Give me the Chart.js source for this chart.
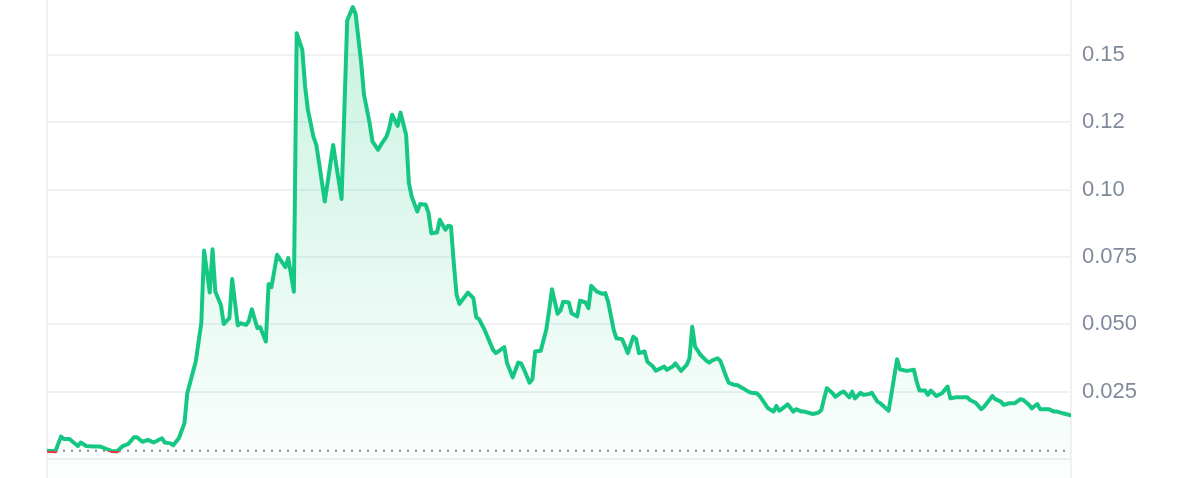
<!DOCTYPE html>
<html>
<head>
<meta charset="utf-8">
<script src="https://cdn.jsdelivr.net/npm/chart.js@4/dist/chart.umd.min.js"></script>
<style>
	html, body { margin: 0; padding: 0; background: #ffffff; }
	#wrap { width: 1200px; height: 478px; }
</style>
</head>
<body>
<div id="wrap"><canvas id="priceChart" width="1200" height="478"></canvas></div>
<script>
// day index on the x axis, price in USD on the y axis
const days = [
	0, 3, 5, 6, 8, 11, 12, 14, 17, 19, 21, 23, 25, 27, 29, 31, 32, 34, 36, 38,
	41, 42, 44, 45, 47, 49, 50, 53, 55, 56, 58, 59, 60, 62, 63, 65, 66, 68, 69, 71,
	72, 73, 75, 76, 78, 79, 80, 82, 85, 86, 88, 89, 91, 92, 93, 95, 96, 97, 99, 100,
	102, 103, 105, 106, 107, 109, 110, 112, 113, 115, 116, 118, 119, 121, 122, 123, 125, 126, 128, 129,
	130, 132, 133, 135, 136, 137, 139, 140, 142, 143, 144, 145, 146, 147, 149, 150, 152, 153, 154, 156,
	159, 160, 163, 164, 166, 168, 169, 170, 172, 173, 174, 176, 178, 179, 180, 182, 183, 184, 186, 187,
	189, 190, 192, 193, 194, 196, 198, 199, 200, 202, 203, 205, 206, 207, 209, 210, 211, 213, 214, 216,
	217, 220, 221, 223, 224, 226, 228, 229, 230, 231, 233, 235, 236, 237, 239, 240, 242, 243, 245, 246,
	248, 250, 251, 253, 254, 256, 257, 259, 260, 261, 263, 264, 266, 267, 269, 270, 273, 275, 276, 277,
	278, 280, 281, 283, 284, 286, 287, 288, 290, 291, 293, 294, 296, 297, 299, 300, 303, 304, 306, 307,
	309, 310, 311, 313, 314, 315, 317, 319, 321, 322, 324, 326, 328, 329, 331, 333, 334, 337, 338, 340,
	341, 343, 345, 347, 348, 350, 351, 353, 354, 356, 357, 359, 360, 362, 365
];

const prices = [
	0.0031, 0.0029, 0.0083, 0.0074, 0.0074, 0.0048, 0.0061, 0.0048, 0.0046, 0.0046,
	0.0038, 0.0030, 0.0029, 0.0048, 0.0056, 0.0081, 0.0081, 0.0064, 0.0071, 0.0061,
	0.0077, 0.0061, 0.0058, 0.0051, 0.0077, 0.0133, 0.0244, 0.0361, 0.0505, 0.0774,
	0.0618, 0.0779, 0.0621, 0.0572, 0.0501, 0.0523, 0.0668, 0.0496, 0.0504, 0.0498,
	0.0514, 0.0556, 0.0486, 0.0489, 0.0436, 0.0650, 0.0638, 0.0758, 0.0712, 0.0746,
	0.0621, 0.1581, 0.1519, 0.1383, 0.1296, 0.1195, 0.1166, 0.1098, 0.0956, 0.1024,
	0.1166, 0.1098, 0.0965, 0.1296, 0.1628, 0.1678, 0.1653, 0.1470, 0.1352, 0.1247,
	0.1179, 0.1148, 0.1166, 0.1197, 0.1228, 0.1278, 0.1237, 0.1286, 0.1204, 0.1024,
	0.0974, 0.0919, 0.0947, 0.0944, 0.0913, 0.0838, 0.0841, 0.0888, 0.0851, 0.0866,
	0.0863, 0.0727, 0.0609, 0.0576, 0.0603, 0.0618, 0.0597, 0.0526, 0.0519, 0.0479,
	0.0405, 0.0393, 0.0415, 0.0355, 0.0303, 0.0358, 0.0355, 0.0333, 0.0283, 0.0296,
	0.0399, 0.0402, 0.0482, 0.0553, 0.0630, 0.0539, 0.0551, 0.0584, 0.0581, 0.0541,
	0.0529, 0.0588, 0.0581, 0.0560, 0.0643, 0.0621, 0.0613, 0.0616, 0.0584, 0.0479,
	0.0448, 0.0445, 0.0420, 0.0393, 0.0454, 0.0445, 0.0393, 0.0399, 0.0361, 0.0343,
	0.0328, 0.0343, 0.0331, 0.0343, 0.0355, 0.0327, 0.0349, 0.0374, 0.0491, 0.0417,
	0.0386, 0.0365, 0.0358, 0.0365, 0.0374, 0.0365, 0.0308, 0.0283, 0.0275, 0.0275,
	0.0263, 0.0250, 0.0246, 0.0244, 0.0234, 0.0204, 0.0188, 0.0176, 0.0197, 0.0179,
	0.0194, 0.0203, 0.0176, 0.0185, 0.0176, 0.0176, 0.0167, 0.0172, 0.0182, 0.0225,
	0.0263, 0.0244, 0.0231, 0.0246, 0.0250, 0.0229, 0.0250, 0.0225, 0.0246, 0.0238,
	0.0241, 0.0246, 0.0213, 0.0207, 0.0188, 0.0179, 0.0370, 0.0333, 0.0328, 0.0328,
	0.0331, 0.0287, 0.0254, 0.0254, 0.0238, 0.0254, 0.0234, 0.0244, 0.0269, 0.0225,
	0.0229, 0.0229, 0.0229, 0.0219, 0.0209, 0.0185, 0.0194, 0.0234, 0.0222, 0.0213,
	0.0201, 0.0207, 0.0207, 0.0222, 0.0219, 0.0201, 0.0188, 0.0204, 0.0185, 0.0185,
	0.0185, 0.0176, 0.0176, 0.0170, 0.0162
];

const tickValues = [0, 0.025, 0.05, 0.075, 0.1, 0.125, 0.15];
const tickLabels = ["", "0.025", "0.050", "0.075", "0.10", "0.12", "0.15"];

const openPrice = prices[0];
const firstDay = days[0];
const lastDay = days[days.length - 1];

const GREEN = "#16c784";
const RED = "#ea3943";
const GRID = "#eff1f4";

function lineGradient(context) {
	const chart = context.chart;
	const area = chart.chartArea;
	if (!area) {
		return GREEN;
	}
	const yBase = chart.scales.y.getPixelForValue(openPrice);
	let stop = (yBase - area.top) / (area.bottom - area.top);
	stop = Math.min(Math.max(stop, 0), 1);
	const gradient = chart.ctx.createLinearGradient(0, area.top, 0, area.bottom);
	gradient.addColorStop(0, GREEN);
	gradient.addColorStop(stop, GREEN);
	gradient.addColorStop(stop, RED);
	gradient.addColorStop(1, RED);
	return gradient;
}

function fillGradient(context) {
	const chart = context.chart;
	const area = chart.chartArea;
	if (!area) {
		return "rgba(22, 199, 132, 0.1)";
	}
	const gradient = chart.ctx.createLinearGradient(0, area.top, 0, area.bottom);
	gradient.addColorStop(0, "rgba(22, 199, 132, 0.24)");
	gradient.addColorStop(1, "rgba(22, 199, 132, 0.01)");
	return gradient;
}

const pricePoints = days.map(function (day, i) {
	return { x: day, y: prices[i] };
});

const baselinePoints = [
	{ x: firstDay, y: openPrice },
	{ x: lastDay, y: openPrice }
];

new Chart(document.getElementById("priceChart"), {
	type: "line",
	data: {
		datasets: [
			{
				label: "Price",
				data: pricePoints,
				borderColor: lineGradient,
				backgroundColor: fillGradient,
				borderWidth: 4,
				borderJoinStyle: "round",
				borderCapStyle: "round",
				fill: "start",
				tension: 0,
				pointRadius: 0,
				order: 1
			},
			{
				label: "Open",
				data: baselinePoints,
				borderColor: "#8d8d8d",
				borderWidth: 2,
				borderDash: [2, 6],
				fill: false,
				pointRadius: 0,
				order: 2
			}
		]
	},
	options: {
		responsive: false,
		animation: false,
		devicePixelRatio: 1,
		layout: { padding: 0 },
		plugins: {
			legend: { display: false },
			tooltip: { enabled: false }
		},
		scales: {
			x: {
				type: "linear",
				display: false,
				min: firstDay,
				max: lastDay
			},
			yLeft: {
				position: "left",
				min: -0.00706,
				max: 0.1704,
				ticks: { display: false },
				grid: { display: false },
				border: { display: true, color: GRID, width: 2 },
				afterFit: function (scale) {
					scale.width = 47;
					scale.paddingTop = 0;
					scale.paddingBottom = 0;
				}
			},
			y: {
				position: "right",
				min: -0.00706,
				max: 0.1704,
				afterBuildTicks: function (scale) {
					scale.ticks = tickValues.map(function (v) {
						return { value: v };
					});
				},
				afterFit: function (scale) {
					scale.width = 129;
					scale.paddingTop = 0;
					scale.paddingBottom = 0;
				},
				ticks: {
					padding: 11,
					color: "#808a9d",
					font: { family: "'Liberation Sans', Arial, sans-serif", size: 22 },
					callback: function (value, index) {
						return tickLabels[index];
					}
				},
				grid: {
					color: GRID,
					lineWidth: 2,
					drawTicks: false
				},
				border: { display: true, color: GRID, width: 2 }
			}
		}
	}
});
</script>
</body>
</html>
